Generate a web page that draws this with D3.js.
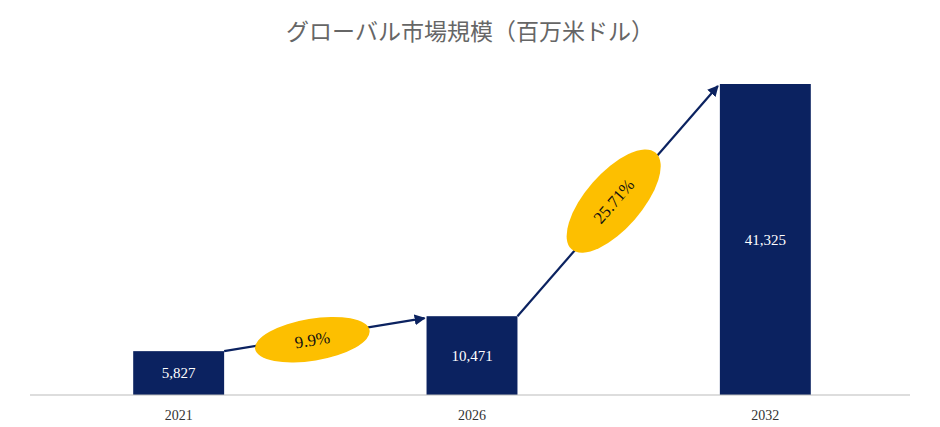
<!DOCTYPE html><html><head><meta charset="utf-8"><script src="https://cdn.jsdelivr.net/npm/d3@7"></script>
<style>body{margin:0;background:#fff}</style></head><body><svg id="c" width="940" height="427"></svg>
<script>
const years=["2021","2026","2032"];
const values=[5827,10471,41325];
const labels=["5,827","10,471","41,325"];
const cagr=["9.9%","25.71%"];
const svg=d3.select("#c");
const font="'Liberation Serif','Times New Roman',serif";
const navy="#0b2260";
const x=d3.scaleBand().domain(years).range([32,912]).paddingInner(0.69).paddingOuter(0.345);
const y=d3.scaleLinear().domain([0,41325]).range([395,84]);
svg.append("text").attr("x",470).attr("y",40).attr("text-anchor","middle").attr("font-family","'Noto Sans CJK JP',serif").attr("font-size",23).attr("fill","#666").text("グローバル市場規模（百万米ドル）");
svg.append("defs").append("marker").attr("id","ah").attr("viewBox","0 0 10 10").attr("refX",9).attr("refY",5).attr("markerWidth",5).attr("markerHeight",5).attr("orient","auto").append("path").attr("d","M0,0L10,5L0,10z").attr("fill",navy);
svg.selectAll("rect.b").data(values).enter().append("rect").attr("x",(d,i)=>x(years[i])).attr("y",d=>y(d)).attr("width",x.bandwidth()).attr("height",d=>395-y(d)).attr("fill",navy);
svg.selectAll("text.v").data(values).enter().append("text").attr("x",(d,i)=>x(years[i])+x.bandwidth()/2).attr("y",d=>(y(d)+395)/2+5).attr("text-anchor","middle").attr("font-family",font).attr("font-size",15).attr("fill","#fff").text((d,i)=>labels[i]);
svg.append("line").attr("x1",30).attr("x2",910).attr("y1",395).attr("y2",395).attr("stroke","#bbb");
svg.selectAll("text.t").data(years).enter().append("text").attr("x",d=>x(d)+x.bandwidth()/2).attr("y",420).attr("text-anchor","middle").attr("font-family",font).attr("font-size",14).attr("fill","#333").text(d=>d);
for(let i=0;i<2;i++){
  const x1=x(years[i])+x.bandwidth(), y1=y(values[i]);
  const x2=x(years[i+1])-2, y2=y(values[i+1])+2;
  svg.append("line").attr("x1",x1).attr("y1",y1).attr("x2",x2).attr("y2",y2).attr("stroke",navy).attr("stroke-width",2.2).attr("marker-end","url(#ah)");
  const cx=(x1+x2)/2+(i==0?-12:-4), cy=(y1+y2)/2+(i==0?5:0);
  const ang=Math.atan2(y2-y1,x2-x1)*180/Math.PI;
  const g=svg.append("g").attr("transform",`translate(${cx},${cy}) rotate(${ang})`);
  g.append("ellipse").attr("rx",i==0?58:64).attr("ry",i==0?21:28).attr("fill","#fdbf00");
  g.append("text").attr("y",6).attr("text-anchor","middle").attr("font-family",font).attr("font-size",17).attr("fill","#111").text(cagr[i]);
}
</script></body></html>
